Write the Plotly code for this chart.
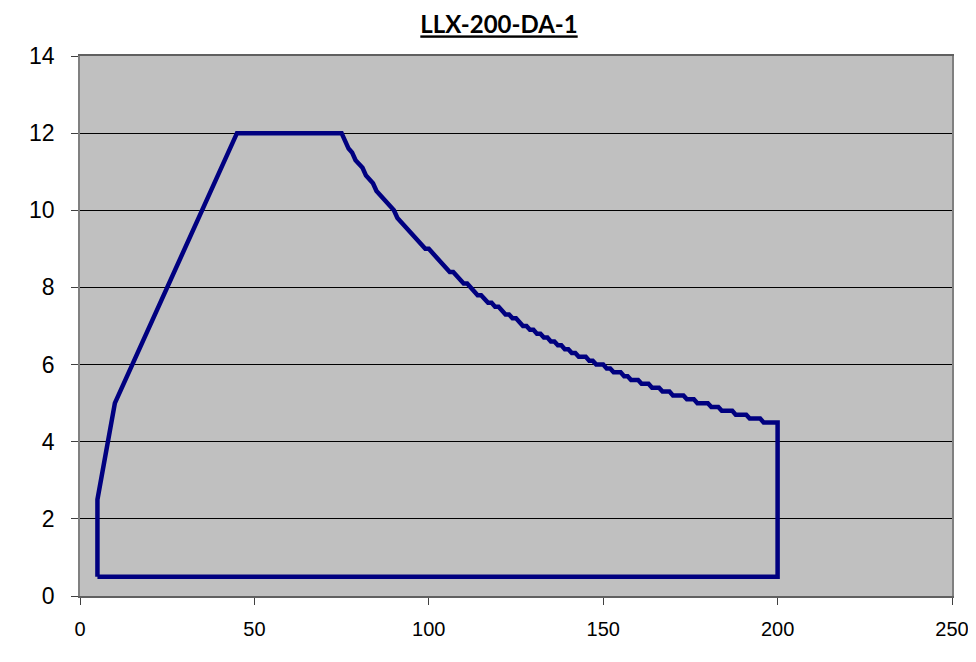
import plotly.graph_objects as go

# Envelope: rising section
x_rise = [5, 5, 10, 45]
y_rise = [0.5, 2.5, 5.0, 12.0]

# Constant-power section (x = 75 .. 200)
x_curve = list(range(75, 201))
y_curve = [
    12.0, 11.8, 11.6, 11.5, 11.3, 11.2, 11.1, 10.9, 10.8, 10.7,
    10.5, 10.4, 10.3, 10.2, 10.1, 10.0, 9.8, 9.7, 9.6, 9.5,
    9.4, 9.3, 9.2, 9.1, 9.0, 9.0, 8.9, 8.8, 8.7, 8.6,
    8.5, 8.4, 8.4, 8.3, 8.2, 8.1, 8.1, 8.0, 7.9, 7.8,
    7.8, 7.7, 7.6, 7.6, 7.5, 7.5, 7.4, 7.3, 7.3, 7.2,
    7.2, 7.1, 7.0, 7.0, 6.9, 6.9, 6.8, 6.8, 6.7, 6.7,
    6.6, 6.6, 6.5, 6.5, 6.4, 6.4, 6.3, 6.3, 6.2, 6.2,
    6.2, 6.1, 6.1, 6.0, 6.0, 6.0, 5.9, 5.9, 5.8, 5.8,
    5.8, 5.7, 5.7, 5.6, 5.6, 5.6, 5.5, 5.5, 5.5, 5.4,
    5.4, 5.4, 5.3, 5.3, 5.3, 5.2, 5.2, 5.2, 5.2, 5.1,
    5.1, 5.1, 5.0, 5.0, 5.0, 5.0, 4.9, 4.9, 4.9, 4.8,
    4.8, 4.8, 4.8, 4.7, 4.7, 4.7, 4.7, 4.6, 4.6, 4.6,
    4.6, 4.5, 4.5, 4.5, 4.5, 4.5,
]

# Closing section
x_close = [200, 5]
y_close = [0.5, 0.5]

x_tick_vals = [0, 50, 100, 150, 200, 250]
y_tick_vals = [0, 2, 4, 6, 8, 10, 12, 14]

title_text = "LLX-200-DA-1"

xs = x_rise + x_curve + x_close
ys = y_rise + y_curve + y_close

W, H = 968, 646

fig = go.Figure()
fig.add_trace(go.Scatter(
    x=xs, y=ys, mode="lines",
    line=dict(color="#000080", width=4.5),
    showlegend=False, hoverinfo="skip",
))

fig.update_layout(
    width=W, height=H,
    margin=dict(l=72, r=24, t=48, b=58, autoexpand=False),
    paper_bgcolor="white",
    plot_bgcolor="#C0C0C0",
    title=dict(
        text="<b>" + title_text + "</b>",
        x=491 / W, xref="container", xanchor="center",
        y=1 - 17 / H, yref="container", yanchor="middle",
        font=dict(family="Lato, Liberation Sans, sans-serif", size=24, color="black",
                  lineposition="under"),
    ),
    xaxis=dict(
        range=[0, 250], tickvals=x_tick_vals,
        showgrid=False, zeroline=False, automargin=False,
        ticks="outside", ticklen=7, tickcolor="#404040", tickwidth=1,
        ticklabelstandoff=7, ticklabeloverflow="allow",
        showline=True, linecolor="#606060", linewidth=1.5, mirror=True,
        tickfont=dict(family="Liberation Sans, Arial, sans-serif",
                      size=20, color="black"),
    ),
    yaxis=dict(
        range=[0, 14], tickvals=y_tick_vals,
        showgrid=True, gridcolor="black", gridwidth=1,
        zeroline=False, automargin=False,
        ticks="outside", ticklen=7, tickcolor="#404040", tickwidth=1,
        ticklabelstandoff=12,
        showline=True, linecolor="#808080", linewidth=1.5, mirror=True,
        tickfont=dict(family="Liberation Sans, Arial, sans-serif", size=23, color="black"),
    ),
)

fig.write_html("out.html")
